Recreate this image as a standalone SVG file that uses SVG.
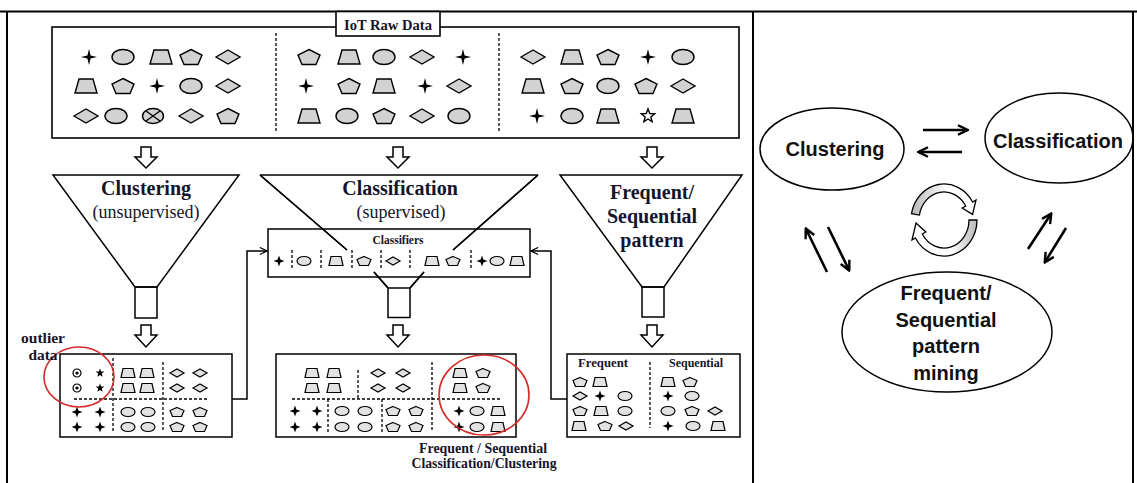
<svg xmlns="http://www.w3.org/2000/svg" xmlns:xlink="http://www.w3.org/1999/xlink" width="1137" height="483" viewBox="0 0 1137 483">
<style>
.ln{stroke:#000;fill:none;stroke-width:1.5}
.fr{stroke:#000;fill:none;stroke-width:2}
.bx{stroke:#000;fill:#fff;stroke-width:1.6}
.da{stroke:#000;fill:none;stroke-width:1.3;stroke-dasharray:3,2}
.sh{fill:#d2d2d2;stroke:#000;stroke-width:1.4}
.ss{fill:#e2e2e2;stroke:#000;stroke-width:1.2}
.bl{fill:#000}
.ser{font-family:"Liberation Serif","Times New Roman",serif;fill:#14142a;text-anchor:middle}
.sb{font-family:"Liberation Serif","Times New Roman",serif;font-weight:bold;fill:#14142a;text-anchor:middle}
.san{font-family:"Liberation Sans",Arial,sans-serif;font-weight:bold;fill:#111;text-anchor:middle;font-size:20px}
.ra{stroke:#000;stroke-width:2.6;fill:none;marker-end:url(#vh)}
.blk{fill:#fff;stroke:#000;stroke-width:1.5}
</style>
<defs>
<marker id="vh" viewBox="0 0 10 10" refX="8.5" refY="5" markerWidth="12" markerHeight="12" markerUnits="userSpaceOnUse" orient="auto"><path d="M1,1 L9,5 L1,9" fill="none" stroke="#000" stroke-width="2"/></marker>
<marker id="th" viewBox="0 0 10 10" refX="9" refY="5" markerWidth="9" markerHeight="9" markerUnits="userSpaceOnUse" orient="auto"><path d="M1,1 L9,5 L1,9" fill="none" stroke="#000" stroke-width="1.3"/></marker>
<linearGradient id="gU" x1="0" y1="0" x2="1" y2="0"><stop offset="0" stop-color="#b8b8b8"/><stop offset="0.55" stop-color="#fff"/><stop offset="1" stop-color="#fff"/></linearGradient>
<linearGradient id="gL" x1="0" y1="0" x2="1" y2="0"><stop offset="0" stop-color="#fff"/><stop offset="0.6" stop-color="#fff"/><stop offset="1" stop-color="#b8b8b8"/></linearGradient>
<!-- big shapes -->
<ellipse id="bE" class="sh" cx="0" cy="0" rx="11" ry="7.5"/>
<polygon id="bT" class="sh" points="-7,-7 7,-7 11,7 -11,7"/>
<polygon id="bP" class="sh" points="0,-7.5 11,-2 7,7.5 -7,7.5 -11,-2"/>
<polygon id="bD" class="sh" points="-12,0 0,-7 12,0 0,7"/>
<path id="bS" class="bl" d="M0,-8 L1.6,-1.6 L8,0 L1.6,1.6 L0,8 L-1.6,1.6 L-8,0 L-1.6,-1.6Z"/>
<g id="bX"><ellipse class="sh" cx="0" cy="0" rx="10.5" ry="7.5"/><path d="M-7,-5 L7,5 M-7,5 L7,-5" stroke="#000" stroke-width="1.4"/></g>
<polygon id="bH" fill="#fff" stroke="#000" stroke-width="1.4" points="0,-7 1.76,-2.43 6.66,-2.16 2.85,0.93 4.11,5.66 0,3 -4.11,5.66 -2.85,0.93 -6.66,-2.16 -1.76,-2.43"/>
<!-- small shapes -->
<ellipse id="sE" class="ss" cx="0" cy="0" rx="7" ry="4.5"/>
<polygon id="sT" class="ss" points="-5,-4.5 5,-4.5 7,4.5 -7,4.5"/>
<polygon id="sP" class="ss" points="0,-4.5 7,-1.5 4.5,4.5 -4.5,4.5 -7,-1.5"/>
<polygon id="sD" class="ss" points="-7,0 0,-4 7,0 0,4"/>
<path id="sS" class="bl" d="M0,-5.5 L1.4,-1.4 L5.5,0 L1.4,1.4 L0,5.5 L-1.4,1.4 L-5.5,0 L-1.4,-1.4Z"/>
<g id="sG"><circle cx="0" cy="0" r="4" fill="#fff" stroke="#000" stroke-width="1.2"/><circle cx="0" cy="0" r="1.6" fill="#000"/></g>
<polygon id="sR" class="bl" points="0,-4.5 1.12,-1.54 4.28,-1.39 1.81,0.59 2.65,3.64 0,1.9 -2.65,3.64 -1.81,0.59 -4.28,-1.39 -1.12,-1.54"/>
</defs>

<!-- frame -->
<g id="frame">
<path class="fr" d="M0,11.5 H1137 M7,11.5 V483 M753,11.5 V483 M1133,11.5 V483"/>
</g>

<!-- raw data -->
<g id="raw-data">
<rect class="bx" x="52" y="27" width="687" height="111"/>
<path class="da" d="M276,33 V132 M499,33 V132" stroke-width="1.6" stroke-dasharray="4,2"/>
<use href="#bS" x="89" y="57"/><use href="#bE" x="123" y="57"/><use href="#bT" x="161" y="57"/><use href="#bP" x="191" y="57"/><use href="#bD" x="228" y="57"/>
<use href="#bT" x="86" y="86"/><use href="#bP" x="123" y="86"/><use href="#bS" x="157" y="86"/><use href="#bE" x="191" y="86"/><use href="#bD" x="228" y="86"/>
<use href="#bD" x="86" y="116"/><use href="#bE" x="116" y="116"/><use href="#bX" x="153" y="116"/><use href="#bD" x="191" y="116"/><use href="#bP" x="228" y="116"/>
<use href="#bP" x="309" y="57"/><use href="#bT" x="349" y="57"/><use href="#bE" x="384" y="57"/><use href="#bD" x="422" y="57"/><use href="#bS" x="463" y="57"/>
<use href="#bS" x="306" y="86"/><use href="#bP" x="349" y="86"/><use href="#bT" x="384" y="86"/><use href="#bS" x="425" y="86"/><use href="#bD" x="459" y="86"/>
<use href="#bT" x="309" y="116"/><use href="#bE" x="347" y="116"/><use href="#bP" x="384" y="116"/><use href="#bD" x="422" y="116"/><use href="#bE" x="459" y="116"/>
<use href="#bD" x="533" y="57"/><use href="#bT" x="572" y="57"/><use href="#bP" x="608" y="57"/><use href="#bS" x="648" y="57"/><use href="#bE" x="683" y="57"/>
<use href="#bT" x="533" y="86"/><use href="#bP" x="572" y="86"/><use href="#bE" x="608" y="86"/><use href="#bP" x="646" y="86"/><use href="#bD" x="683" y="86"/>
<use href="#bS" x="537" y="116"/><use href="#bE" x="572" y="116"/><use href="#bT" x="608" y="116"/><use href="#bH" x="648" y="116"/><use href="#bT" x="683" y="116"/>
<rect class="bx" x="336" y="11.5" width="104" height="24.5"/>
<text class="sb" x="388" y="30" font-size="14" textLength="88" lengthAdjust="spacingAndGlyphs">IoT Raw Data</text>
</g>

<!-- block arrows -->
<g id="block-arrows">
<path class="blk" d="M141,147 H151 V157 H157 L146,168 L135,157 H141 Z"/>
<path class="blk" d="M393,147 H403 V157 H409 L398,168 L387,157 H393 Z"/>
<path class="blk" d="M647,147 H657 V157 H663 L652,168 L641,157 H647 Z"/>
<path class="blk" d="M141,325 H151 V335 H157 L146,347 L135,335 H141 Z"/>
<path class="blk" d="M393,325 H403 V335 H409 L398,347 L387,335 H393 Z"/>
<path class="blk" d="M647,325 H657 V335 H663 L652,347 L641,335 H647 Z"/>
</g>

<!-- clustering funnel -->
<g id="funnel-clustering">
<polygon class="ln" points="53,175 239,175 157,287 135,287"/>
<rect class="ln" x="135" y="287" width="22" height="31"/>
<text class="sb" x="146" y="195" font-size="20">Clustering</text>
<text class="ser" x="146" y="218" font-size="18">(unsupervised)</text>
</g>

<!-- classification funnel -->
<g id="funnel-classification">
<path class="ln" d="M260,175 H538 M260,175 L347,250 M538,175 L453,250 M374,272 L388,288 M424,272 L410,288"/>
<rect class="ln" x="388" y="288" width="22" height="29.5"/>
<text class="sb" x="400" y="195" font-size="20">Classification</text>
<text class="ser" x="401" y="218" font-size="18">(supervised)</text>
</g>

<!-- classifiers box -->
<g id="classifiers">
<rect class="ln" x="268" y="229" width="262" height="48"/>
<path class="ln" d="M260,175 L347,250 M538,175 L453,250 M374,272 L388,288 M424,272 L410,288" stroke-width="1.3"/>
<text class="sb" x="398" y="244" font-size="11.5">Classifiers</text>
<path class="da" d="M292,250 V270 M321,250 V270 M352,250 V270 M381,250 V270 M410,250 V270 M471,250 V270"/>
<use href="#sS" x="279" y="261"/><use href="#sE" x="304" y="261"/><use href="#sT" x="336" y="261"/><use href="#sP" x="364" y="261"/><use href="#sD" x="393" y="261"/>
<use href="#sT" x="432" y="261"/><use href="#sP" x="453" y="261"/><use href="#sS" x="482" y="261"/><use href="#sE" x="497" y="261"/><use href="#sT" x="517" y="261"/>
</g>

<!-- frequent funnel -->
<g id="funnel-frequent">
<polygon class="ln" points="560,175 742,175 664,287 642,287"/>
<rect class="ln" x="642" y="287" width="22" height="30"/>
<text class="sb" x="652" y="199" font-size="20">Frequent/</text>
<text class="sb" x="652" y="223" font-size="20">Sequential</text>
<text class="sb" x="652" y="247" font-size="20">pattern</text>
</g>

<!-- connectors -->
<g id="connectors">
<polyline class="ln" points="232,399 247,399 247,251 267,251" stroke-width="1.3" marker-end="url(#th)"/>
<polyline class="ln" points="567,399 551,399 551,251 531,251" stroke-width="1.3" marker-end="url(#th)"/>
<line class="ra" x1="923" y1="130" x2="967" y2="130"/>
<line class="ra" x1="962" y1="152" x2="919" y2="152"/>
<line class="ra" x1="827" y1="272" x2="806" y2="229"/>
<line class="ra" x1="828" y1="227" x2="849" y2="270"/>
<line class="ra" x1="1028" y1="249" x2="1051" y2="214"/>
<line class="ra" x1="1066" y1="228" x2="1045" y2="262"/>
</g>

<!-- clustering result -->
<g id="result-clustering">
<rect class="ln" x="60" y="354" width="172" height="83"/>
<path class="da" d="M74,399 H208 M113,358 V432 M163,362 V432"/>
<use href="#sG" x="77" y="373"/><use href="#sR" x="100" y="373"/><use href="#sG" x="77" y="388"/><use href="#sR" x="100" y="388"/>
<use href="#sS" x="77" y="412"/><use href="#sS" x="100" y="412"/><use href="#sS" x="77" y="427"/><use href="#sS" x="100" y="427"/>
<use href="#sT" x="128" y="373"/><use href="#sT" x="147" y="373"/><use href="#sT" x="128" y="388"/><use href="#sT" x="147" y="388"/>
<use href="#sE" x="128" y="412"/><use href="#sE" x="148" y="412"/><use href="#sE" x="128" y="427"/><use href="#sE" x="148" y="427"/>
<use href="#sD" x="177" y="373"/><use href="#sD" x="200" y="373"/><use href="#sD" x="177" y="388"/><use href="#sD" x="200" y="388"/>
<use href="#sP" x="177" y="412"/><use href="#sP" x="200" y="412"/><use href="#sP" x="177" y="427"/><use href="#sP" x="200" y="427"/>
<ellipse cx="79" cy="377" rx="35" ry="30" fill="none" stroke="#d42a2a" stroke-width="1.6"/>
<text class="sb" x="43" y="343" font-size="14" textLength="44" lengthAdjust="spacingAndGlyphs">outlier</text>
<text class="sb" x="43" y="360" font-size="14" textLength="29" lengthAdjust="spacingAndGlyphs">data</text>
</g>

<!-- classification result -->
<g id="result-classification">
<rect class="ln" x="276" y="354" width="240" height="83"/>
<path class="da" d="M292,399 H501 M358,370 V399 M432,362 V432 M328,399 V432 M382,399 V432"/>
<use href="#sT" x="312" y="373"/><use href="#sT" x="334" y="373"/><use href="#sT" x="312" y="388"/><use href="#sT" x="334" y="388"/>
<use href="#sD" x="378" y="373"/><use href="#sD" x="403" y="373"/><use href="#sD" x="378" y="388"/><use href="#sD" x="403" y="388"/>
<use href="#sT" x="460" y="373"/><use href="#sP" x="483" y="373"/><use href="#sT" x="460" y="388"/><use href="#sP" x="483" y="388"/>
<use href="#sS" x="295" y="411"/><use href="#sS" x="317" y="411"/><use href="#sS" x="295" y="427"/><use href="#sS" x="317" y="427"/>
<use href="#sE" x="342" y="411"/><use href="#sE" x="365" y="411"/><use href="#sE" x="342" y="427"/><use href="#sE" x="365" y="427"/>
<use href="#sP" x="393" y="411"/><use href="#sP" x="416" y="411"/><use href="#sP" x="393" y="427"/><use href="#sP" x="416" y="427"/>
<use href="#sS" x="459" y="411"/><use href="#sE" x="477" y="411"/><use href="#sT" x="498" y="411"/><use href="#sS" x="459" y="427"/><use href="#sE" x="477" y="427"/><use href="#sT" x="498" y="427"/>
<ellipse cx="484" cy="395" rx="45" ry="40" fill="none" stroke="#d42a2a" stroke-width="1.6"/>
<text class="sb" x="483" y="453" font-size="14.5" textLength="128" lengthAdjust="spacingAndGlyphs">Frequent / Sequential</text>
<text class="sb" x="484" y="468" font-size="14.5" textLength="145" lengthAdjust="spacingAndGlyphs">Classification/Clustering</text>
</g>

<!-- frequent result -->
<g id="result-frequent">
<rect class="ln" x="567" y="354" width="173" height="83"/>
<path class="da" d="M650,362 V428"/>
<text class="sb" x="603" y="367" font-size="11.5" textLength="50" lengthAdjust="spacingAndGlyphs">Frequent</text>
<text class="sb" x="696" y="367" font-size="11.5" textLength="54" lengthAdjust="spacingAndGlyphs">Sequential</text>
<use href="#sP" x="580" y="382"/><use href="#sT" x="600" y="382"/>
<use href="#sD" x="580" y="396"/><use href="#sS" x="600" y="396"/><use href="#sE" x="625" y="396"/>
<use href="#sP" x="580" y="411"/><use href="#sT" x="601" y="411"/><use href="#sE" x="625" y="411"/>
<use href="#sT" x="579" y="426"/><use href="#sP" x="605" y="426"/><use href="#sD" x="626" y="426"/>
<use href="#sT" x="668" y="382"/><use href="#sP" x="690" y="382"/>
<use href="#sS" x="668" y="396"/><use href="#sE" x="692" y="396"/>
<use href="#sE" x="668" y="411"/><use href="#sP" x="692" y="411"/><use href="#sD" x="715" y="411"/>
<use href="#sS" x="668" y="426"/><use href="#sE" x="693" y="426"/><use href="#sT" x="718" y="426"/>
</g>

<!-- right panel nodes -->
<g id="node-clustering">
<ellipse class="ln" cx="832" cy="149" rx="72" ry="41"/>
<text class="san" x="835" y="156">Clustering</text>
</g>
<g id="node-classification">
<ellipse class="ln" cx="1059" cy="138" rx="74" ry="45"/>
<text class="san" x="1058" y="148">Classification</text>
</g>
<g id="node-frequent">
<ellipse class="ln" cx="947" cy="332" rx="105" ry="60"/>
<text class="san" x="946" y="300">Frequent/</text>
<text class="san" x="946" y="327">Sequential</text>
<text class="san" x="946" y="353">pattern</text>
<text class="san" x="946" y="380">mining</text>
</g>

<!-- cycle arrows -->
<g id="cycle">
<path fill="url(#gU)" stroke="#000" stroke-width="1.3" d="M911.5,213.7 A33,36 0 0 1 972.6,202 L976,200 L972.6,214.4 L962.2,208 L965.7,206 A25,28 0 0 0 919.4,215.1 Z"/>
<path fill="url(#gL)" stroke="#000" stroke-width="1.3" d="M977,220 A33,36 0 0 1 915.4,238 L912,240 L916,223 L925.8,232 L922.3,234 A25,28 0 0 0 969,220 Z"/>
</g>
</svg>
